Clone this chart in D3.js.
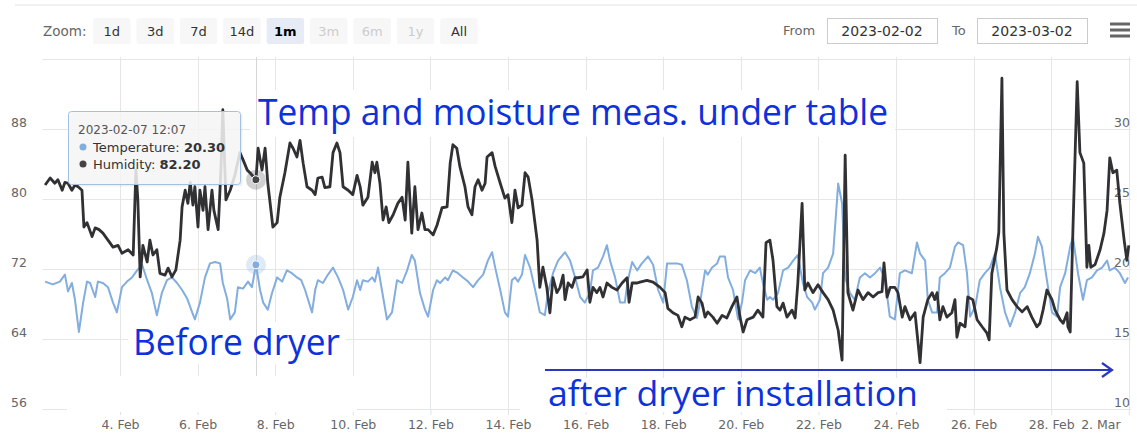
<!DOCTYPE html>
<html><head><meta charset="utf-8">
<script src="https://cdn.jsdelivr.net/npm/d3@7"></script>
<style>
html,body{margin:0;padding:0;background:#fff;}
svg{display:block;font-family:"DejaVu Sans",sans-serif;}
</style></head><body>
<svg id="chart" width="1137" height="441"></svg>
<script>
// ---------------- data ----------------
const startDate = "2023-02-02";
const endDate = "2023-03-02";
const tickDates = ["2023-02-04","2023-02-06","2023-02-08","2023-02-10","2023-02-12","2023-02-14","2023-02-16",
  "2023-02-18","2023-02-20","2023-02-22","2023-02-24","2023-02-26","2023-02-28","2023-03-02"];
const leftTicks = [56, 64, 72, 80, 88];
const leftMax = 96;
const rightTicks = [10, 15, 20, 25, 30];
const rightMax = 35;
const zoomButtons = ["1d","3d","7d","14d","1m","3m","6m","1y","All"];
const selectedButton = "1m";
const disabledButtons = ["3m","6m","1y"];
const seriesNames = ["Temperature", "Humidity"];
const tooltipTime = "2023-02-07T12:07:00Z";
const annotationTexts = ["Temp and moisture meas. under table", "Before dryer", "after dryer installation"];

// [days since start, °C]
const temperature = [
 [0.07,19.1],[0.27,18.9],[0.45,19.1],[0.58,19.6],[0.66,18.4],[0.76,19.0],[0.84,17.8],[0.94,15.5],[1.05,17.6],[1.15,19.1],
 [1.23,19.0],[1.36,18.0],[1.43,19.1],[1.56,19.0],[1.69,18.7],[1.82,17.6],[1.92,16.9],[2.05,18.7],[2.18,19.1],[2.31,19.4],
 [2.44,19.9],[2.57,20.3],[2.70,19.2],[2.82,18.3],[2.95,16.7],[3.08,18.3],[3.21,19.2],[3.34,19.4],[3.47,19.0],[3.60,18.5],
 [3.73,17.9],[3.86,16.9],[3.93,16.4],[4.06,17.6],[4.19,19.4],[4.32,20.4],[4.45,20.5],[4.58,20.4],[4.65,19.0],[4.76,17.9],
 [4.84,16.4],[4.96,16.9],[5.04,18.7],[5.17,18.6],[5.30,19.1],[5.40,18.7],[5.505,20.3],[5.61,18.5],[5.69,17.6],[5.81,17.1],
 [5.92,18.3],[6.05,19.4],[6.18,19.1],[6.30,19.9],[6.43,19.7],[6.56,19.4],[6.67,19.2],[6.77,18.5],[6.95,16.9],[7.03,18.5],
 [7.10,19.2],[7.23,19.0],[7.36,19.6],[7.49,20.1],[7.62,19.4],[7.75,18.5],[7.88,17.1],[8.00,18.0],[8.11,19.2],[8.19,18.5],
 [8.26,19.2],[8.39,19.1],[8.50,19.4],[8.57,19.1],[8.65,20.1],[8.75,18.5],[8.88,16.4],[9.01,16.9],[9.14,19.2],[9.27,19.0],
 [9.40,19.9],[9.52,21.0],[9.60,20.6],[9.73,18.3],[9.86,17.1],[9.94,16.6],[10.07,18.5],[10.17,19.2],[10.25,19.0],[10.38,19.4],
 [10.45,19.2],[10.58,19.9],[10.71,19.7],[10.84,19.4],[10.97,19.1],[11.10,18.7],[11.23,19.2],[11.36,19.6],[11.48,20.6],[11.59,21.2],
 [11.67,20.1],[11.80,18.5],[11.92,16.9],[12.00,16.6],[12.10,19.2],[12.18,19.4],[12.26,19.1],[12.36,19.6],[12.44,21.0],[12.57,20.1],
 [12.70,18.5],[12.82,16.9],[12.95,16.7],[13.03,18.3],[13.16,19.7],[13.29,20.6],[13.47,21.2],[13.60,20.6],[13.73,19.4],[13.86,18.0],
 [13.98,17.6],[14.11,18.3],[14.19,19.9],[14.32,20.1],[14.45,20.9],[14.55,21.7],[14.63,20.6],[14.76,19.4],[14.89,17.6],[15.01,17.6],
 [15.09,19.2],[15.20,20.5],[15.33,19.9],[15.45,20.4],[15.61,20.9],[15.74,20.3],[15.87,18.5],[16.00,17.6],[16.10,20.4],[16.23,20.4],
 [16.36,20.4],[16.48,20.3],[16.61,19.2],[16.74,17.3],[16.87,16.5],[16.95,17.6],[17.08,19.9],[17.15,19.6],[17.26,20.1],[17.39,20.4],
 [17.46,20.9],[17.59,20.9],[17.67,19.4],[17.80,18.5],[17.93,16.4],[18.03,17.6],[18.11,19.2],[18.24,19.9],[18.37,19.7],[18.49,20.1],
 [18.57,19.0],[18.68,17.8],[18.75,18.0],[18.83,17.8],[18.96,18.3],[19.09,19.9],[19.22,20.1],[19.35,20.6],[19.47,21.0],[19.60,19.0],
 [19.71,18.0],[19.84,17.6],[19.91,17.1],[20.04,17.8],[20.12,19.7],[20.25,20.1],[20.38,21.1],[20.51,26.1],[20.61,24.7],[20.69,19.4],
 [20.81,18.3],[20.94,17.8],[21.07,19.4],[21.20,19.7],[21.33,19.4],[21.46,19.7],[21.59,20.1],[21.72,19.2],[21.84,16.6],[21.97,16.4],
 [22.10,19.7],[22.23,19.9],[22.41,19.7],[22.54,21.9],[22.62,21.1],[22.75,20.6],[22.82,17.8],[22.93,16.9],[23.06,16.9],[23.13,19.4],
 [23.26,19.7],[23.39,20.1],[23.52,21.6],[23.60,21.9],[23.73,21.7],[23.83,19.7],[23.91,16.6],[24.04,17.3],[24.16,19.2],[24.29,19.7],
 [24.42,20.1],[24.55,21.1],[24.68,18.7],[24.81,16.9],[24.94,15.9],[25.07,16.9],[25.20,18.3],[25.32,18.7],[25.45,19.7],[25.58,21.1],
 [25.66,22.3],[25.76,21.6],[25.89,19.2],[26.02,16.9],[26.15,16.6],[26.23,18.7],[26.36,19.7],[26.49,21.6],[26.56,22.3],[26.69,19.7],
 [26.82,17.8],[26.92,19.2],[27.05,19.4],[27.18,19.9],[27.31,20.1],[27.44,20.6],[27.51,19.9],[27.64,20.1],[27.77,19.7],[27.90,19.0],
 [27.98,19.4]
];

// [days since start, %RH]
const humidity = [
 [0.07,81.6],[0.20,82.4],[0.32,81.8],[0.40,82.2],[0.51,81.0],[0.58,81.9],[0.66,81.8],[0.76,81.0],[0.84,81.6],[0.92,81.4],
 [1.02,81.0],[1.07,76.8],[1.15,77.3],[1.28,75.7],[1.36,76.7],[1.46,76.5],[1.56,76.1],[1.69,75.3],[1.82,74.5],[1.95,74.7],
 [2.05,73.8],[2.21,74.2],[2.34,73.6],[2.41,83.3],[2.46,79.9],[2.52,71.1],[2.59,74.7],[2.70,72.8],[2.77,75.3],[2.85,73.6],
 [2.95,74.2],[3.03,71.5],[3.16,71.3],[3.24,72.1],[3.34,71.1],[3.44,71.9],[3.55,75.3],[3.60,79.1],[3.68,81.0],[3.75,79.5],
 [3.81,81.9],[3.88,79.3],[3.93,81.4],[4.01,76.8],[4.06,81.0],[4.14,78.7],[4.19,81.4],[4.27,76.5],[4.37,81.0],[4.42,78.7],
 [4.53,76.5],[4.60,83.3],[4.65,90.2],[4.73,79.9],[4.84,81.0],[4.96,82.7],[5.09,85.3],[5.17,84.5],[5.28,83.3],[5.35,83.0],
 [5.505,82.2],[5.56,85.8],[5.66,83.3],[5.74,85.8],[5.81,81.8],[5.94,76.8],[6.05,77.3],[6.12,80.2],[6.25,83.0],[6.38,86.4],
 [6.46,85.8],[6.56,84.8],[6.64,86.7],[6.72,84.1],[6.82,81.4],[6.95,81.0],[7.03,80.5],[7.10,82.4],[7.21,82.5],[7.28,81.3],
 [7.41,81.4],[7.49,85.3],[7.59,86.4],[7.67,85.3],[7.75,81.4],[7.88,81.0],[8.00,80.5],[8.11,82.7],[8.19,81.4],[8.26,79.3],
 [8.39,80.2],[8.50,84.2],[8.57,83.0],[8.62,84.2],[8.70,81.8],[8.78,77.6],[8.86,79.1],[8.93,77.3],[9.04,78.2],[9.16,79.5],
 [9.27,80.2],[9.35,77.6],[9.42,84.2],[9.52,76.1],[9.60,81.4],[9.68,76.5],[9.78,78.4],[9.86,76.5],[9.94,76.5],[10.07,75.9],
 [10.17,77.0],[10.30,79.0],[10.43,79.1],[10.51,84.1],[10.58,86.2],[10.68,85.8],[10.76,83.7],[10.89,81.4],[10.97,79.1],[11.07,78.2],
 [11.15,81.4],[11.23,82.2],[11.33,81.0],[11.41,81.8],[11.46,84.8],[11.59,85.3],[11.67,83.7],[11.80,81.8],[11.92,80.1],[12.00,80.5],
 [12.10,77.3],[12.18,81.0],[12.26,79.0],[12.36,79.3],[12.44,83.0],[12.52,82.5],[12.62,79.9],[12.75,75.3],[12.82,69.9],[12.90,72.2],
 [13.00,69.9],[13.08,67.0],[13.16,71.0],[13.26,69.3],[13.34,69.9],[13.42,71.3],[13.47,68.5],[13.55,70.4],[13.65,69.9],[13.73,71.0],
 [13.80,71.0],[13.93,71.1],[14.04,71.9],[14.11,68.2],[14.19,69.9],[14.29,69.3],[14.37,69.9],[14.45,68.8],[14.55,70.4],[14.68,69.9],
 [14.81,69.6],[14.94,70.4],[15.07,71.0],[15.12,68.2],[15.20,70.4],[15.33,70.4],[15.40,70.5],[15.58,70.7],[15.74,70.5],[15.92,69.9],
 [16.05,69.3],[16.12,67.5],[16.25,67.0],[16.38,66.7],[16.48,65.4],[16.56,66.5],[16.69,66.2],[16.82,66.5],[16.90,68.8],[17.00,68.1],
 [17.08,66.5],[17.15,67.1],[17.28,66.5],[17.39,65.8],[17.52,66.7],[17.64,66.4],[17.77,67.7],[17.90,68.8],[17.98,66.5],[18.06,64.8],
 [18.16,66.2],[18.32,66.5],[18.44,67.3],[18.57,66.5],[18.65,75.0],[18.75,75.3],[18.83,73.0],[18.93,67.7],[19.01,67.3],[19.09,68.1],
 [19.19,66.5],[19.32,67.3],[19.40,66.4],[19.47,70.4],[19.58,79.5],[19.65,69.6],[19.73,70.4],[19.86,69.3],[19.99,70.2],[20.12,69.3],
 [20.25,68.5],[20.38,67.3],[20.51,65.0],[20.61,61.6],[20.69,85.0],[20.76,69.3],[20.89,67.3],[21.02,69.6],[21.15,68.5],[21.28,69.3],
 [21.41,68.8],[21.54,69.3],[21.64,69.4],[21.69,72.7],[21.77,68.8],[21.85,69.9],[21.97,69.9],[22.05,69.3],[22.16,66.5],[22.23,67.7],
 [22.36,66.2],[22.49,67.0],[22.62,61.3],[22.70,66.5],[22.82,68.5],[22.93,69.3],[23.00,68.5],[23.06,69.3],[23.13,66.2],[23.21,67.7],
 [23.31,66.5],[23.44,67.0],[23.52,68.5],[23.57,64.2],[23.65,65.8],[23.78,65.4],[23.85,68.8],[23.98,68.5],[24.09,66.2],[24.22,65.4],
 [24.34,64.7],[24.40,63.9],[24.47,71.5],[24.60,74.5],[24.65,76.2],[24.73,93.8],[24.78,76.1],[24.86,69.6],[24.99,68.5],[25.12,67.7],
 [25.25,67.1],[25.38,67.7],[25.50,66.5],[25.63,65.4],[25.71,65.8],[25.79,67.3],[25.89,69.6],[26.02,68.5],[26.10,67.3],[26.23,66.2],
 [26.31,65.8],[26.41,67.0],[26.43,65.4],[26.49,64.8],[26.56,76.5],[26.67,93.4],[26.74,85.3],[26.84,84.1],[26.92,72.2],[26.97,74.7],
 [27.02,72.2],[27.13,72.5],[27.26,74.2],[27.36,76.1],[27.44,78.7],[27.51,84.7],[27.59,83.0],[27.69,83.3],[27.77,79.5],[27.88,75.3],
 [27.95,73.0],[28.00,74.7]
];

// ---------------- drawing ----------------
const svg = d3.select("#chart");
const DAY = 864e5;
const t0 = Date.parse(startDate + "T00:00:00Z");
const t1 = Date.parse(endDate + "T00:00:00Z");
const toDate = d => new Date(t0 + d * DAY);

const plot = {left: 42.4, right: 1128.8, top: 59, bottom: 409};
const x = d3.scaleUtc().domain([t0, t1]).range([plot.left, plot.right]);
const yL = d3.scaleLinear().domain([leftTicks[0], leftMax]).range([plot.bottom, plot.top]);
const yR = d3.scaleLinear().domain([rightTicks[0], rightMax]).range([plot.bottom, plot.top]);

const colTemp = "#82addf", colHum = "#313134";
const gridCol = "#e6e6e6";

// container top line
svg.append("line").attr("x1", 15).attr("x2", 1137).attr("y1", 5).attr("y2", 5)
  .attr("stroke", "#ececec").attr("stroke-width", 1.5);

// range selector
svg.append("text").attr("x", 43).attr("y", 36).attr("font-size", 13.5).attr("fill", "#666").text("Zoom:");
const bw = 37.5, bstep = 43.4;
zoomButtons.forEach((b, i) => {
  const bx = 93 + i * bstep;
  const sel = b === selectedButton, dis = disabledButtons.includes(b);
  svg.append("rect").attr("x", bx).attr("y", 18).attr("width", bw).attr("height", 26).attr("rx", 2)
    .attr("fill", sel ? "#e6ebf5" : "#f7f7f7");
  svg.append("text").attr("x", bx + bw / 2).attr("y", 36).attr("text-anchor", "middle")
    .attr("font-size", 13).attr("font-weight", sel ? "bold" : "normal")
    .attr("fill", sel ? "#000" : dis ? "#cccccc" : "#333").text(b);
});
svg.append("text").attr("x", 783).attr("y", 35).attr("font-size", 13).attr("fill", "#666").text("From");
svg.append("text").attr("x", 952).attr("y", 35).attr("font-size", 13).attr("fill", "#666").text("To");
[[827, startDate], [977, endDate]].forEach(([bx, label]) => {
  svg.append("rect").attr("x", bx + 0.5).attr("y", 18.5).attr("width", 110).attr("height", 25)
    .attr("fill", "#fff").attr("stroke", "#cccccc");
  svg.append("text").attr("x", bx + 55).attr("y", 36).attr("text-anchor", "middle")
    .attr("font-size", 14).attr("fill", "#333").text(label);
});
[24, 30, 36].forEach(yy => svg.append("line").attr("x1", 1110).attr("x2", 1130).attr("y1", yy).attr("y2", yy)
  .attr("stroke", "#666").attr("stroke-width", 3));

// grid
const grid = svg.append("g");
leftTicks.concat([leftMax]).forEach(v => grid.append("line")
  .attr("x1", plot.left).attr("x2", 1131).attr("y1", Math.round(yL(v)) + 0.5).attr("y2", Math.round(yL(v)) + 0.5)
  .attr("stroke", gridCol));
const tickVals = tickDates.map(s => new Date(s + "T00:00:00Z"));
tickVals.forEach(t => grid.append("line")
  .attr("x1", Math.round(x(t)) + 0.5).attr("x2", Math.round(x(t)) + 0.5)
  .attr("y1", 57).attr("y2", plot.bottom).attr("stroke", gridCol));

// x axis
const xAxis = svg.append("g").attr("transform", `translate(0,${plot.bottom})`)
  .call(d3.axisBottom(x).tickValues(tickVals).tickFormat(d3.utcFormat("%-d. %b")).tickSize(6).tickPadding(5));
xAxis.select(".domain").remove();
xAxis.selectAll("line").attr("stroke", "#dde3ef");
xAxis.selectAll("text").attr("font-size", 12.5).attr("fill", "#666").attr("font-family", "DejaVu Sans");
xAxis.selectAll("text").each(function () {
  const b = this.getBBox();
  const tx = x(d3.select(this).datum());
  const right = tx + b.x + b.width;
  if (right > 1121) d3.select(this).attr("x", 1121 - right);
});

// y axes
const yAxL = svg.append("g").attr("transform", "translate(27,0)")
  .call(d3.axisLeft(yL).tickValues(leftTicks).tickSize(0).tickPadding(0));
const yAxR = svg.append("g").attr("transform", "translate(1130,0)")
  .call(d3.axisRight(yR).tickValues(rightTicks).tickSize(0).tickPadding(0));
[yAxL, yAxR].forEach(g => {
  g.select(".domain").remove();
  g.attr("text-anchor", "end");
  g.selectAll("text").attr("x", 0).attr("y", -6.5).attr("font-size", 12.5).attr("fill", "#666")
    .attr("font-family", "DejaVu Sans");
});

// white text-box masks (from the annotated screenshot)
const masks = [[250, 90, 645, 47], [128, 322, 218, 42], [67, 376, 290, 36], [520, 378, 427, 34]];
masks.forEach(([mx, my, mw, mh]) => svg.append("rect").attr("x", mx).attr("y", my)
  .attr("width", mw).attr("height", mh).attr("fill", "#fff"));

// crosshair
const tt = Date.parse(tooltipTime);
const ttDay = (tt - t0) / DAY;
svg.append("line").attr("x1", Math.round(x(tt)) + 0.5).attr("x2", Math.round(x(tt)) + 0.5)
  .attr("y1", 57).attr("y2", 376).attr("stroke", "#d6d6d6");

// series
const lineT = d3.line().x(p => x(toDate(p[0]))).y(p => yR(p[1]));
const lineH = d3.line().x(p => x(toDate(p[0]))).y(p => yL(p[1]));
svg.append("path").attr("d", lineT(temperature)).attr("fill", "none").attr("stroke", colTemp)
  .attr("stroke-width", 2).attr("stroke-linejoin", "round");
svg.append("path").attr("d", lineH(humidity)).attr("fill", "none").attr("stroke", colHum)
  .attr("stroke-width", 2.8).attr("stroke-linejoin", "round");

// hover points
const nearest = arr => arr.reduce((a, b) => Math.abs(b[0] - ttDay) < Math.abs(a[0] - ttDay) ? b : a);
const pT = nearest(temperature), pH = nearest(humidity);
[[pT, yR, colTemp], [pH, yL, "#434348"]].forEach(([p, ys, c]) => {
  const cx = x(toDate(p[0])), cy = ys(p[1]);
  svg.append("circle").attr("cx", cx).attr("cy", cy).attr("r", 10).attr("fill", c).attr("opacity", 0.25);
  svg.append("circle").attr("cx", cx).attr("cy", cy).attr("r", 4).attr("fill", c).attr("stroke", "#fff").attr("stroke-width", 1);
});

// tooltip
const tip = svg.append("g");
tip.append("rect").attr("x", 70.5).attr("y", 113.5).attr("width", 172).attr("height", 73).attr("rx", 3)
  .attr("fill", "rgba(0,0,0,0.06)");
tip.append("rect").attr("x", 68.5).attr("y", 111.5).attr("width", 172).attr("height", 73).attr("rx", 3)
  .attr("fill", "rgba(247,247,247,0.85)").attr("stroke", "#a3bfe3");
tip.append("text").attr("x", 78).attr("y", 134).attr("font-size", 12).attr("fill", "#555")
  .text(d3.utcFormat("%Y-%m-%d %H:%M")(new Date(tt)));
[[pT, colTemp, seriesNames[0], 152], [pH, "#434348", seriesNames[1], 169]].forEach(([p, c, name, by]) => {
  tip.append("circle").attr("cx", 83).attr("cy", by - 5).attr("r", 3.5).attr("fill", c);
  const t = tip.append("text").attr("x", 93).attr("y", by).attr("font-size", 13).attr("fill", "#333");
  t.append("tspan").text(name + ": ");
  t.append("tspan").attr("font-weight", "bold").text(d3.format(".2f")(p[1]));
});

// annotations
const blue = "#0d31dc";
const ann = [
  {text: annotationTexts[0], x: 258, y: 125, w: 630, fs: 37},
  {text: annotationTexts[1], x: 133, y: 355, w: 207, fs: 37},
  {text: annotationTexts[2], x: 548, y: 406, w: 370, fs: 35}
];
ann.forEach(a => svg.append("text").attr("x", a.x).attr("y", a.y)
  .attr("font-family", "Open Sans, Noto Sans, sans-serif").attr("font-size", a.fs).attr("fill", blue)
  .attr("textLength", a.w).attr("lengthAdjust", "spacingAndGlyphs").text(a.text));

// arrow
const arrowCol = "#2838c0";
svg.append("line").attr("x1", 545).attr("x2", 1111).attr("y1", 370).attr("y2", 370)
  .attr("stroke", arrowCol).attr("stroke-width", 2.2);
svg.append("path").attr("d", "M1102,363 L1112,370 L1102,377").attr("fill", "none")
  .attr("stroke", arrowCol).attr("stroke-width", 2.2).attr("stroke-linejoin", "miter");
</script>
</body></html>
